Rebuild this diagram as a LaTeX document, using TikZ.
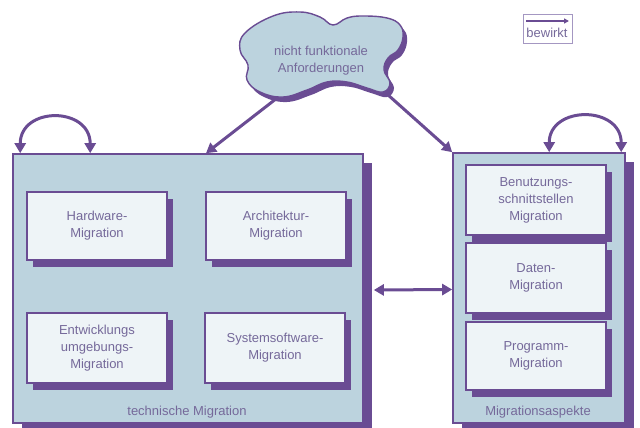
\documentclass[tikz,border=0pt]{standalone}
\usepackage{fontspec}
\setmainfont{Liberation Sans}
\usetikzlibrary{arrows.meta,shadows}

\definecolor{purp}{HTML}{6A4C93}
\definecolor{panel}{HTML}{BCD3DE}
\definecolor{card}{HTML}{EEF4F7}
\definecolor{ink}{HTML}{75699A}
\definecolor{legendline}{HTML}{A497C2}

\begin{document}
\begin{tikzpicture}[x=1pt,y=-1pt,
  panelbox/.style={draw=purp, line width=1.6pt, fill=panel, inner sep=0pt,
    general shadow={fill=purp, shadow xshift=9pt, shadow yshift=-9pt}},
  cardbox/.style={draw=purp, line width=1.4pt, fill=card, text=ink,
    minimum width=140pt, align=center, inner sep=0pt,
    font=\fontsize{13}{17}\selectfont,
    general shadow={fill=purp, shadow xshift=6pt, shadow yshift=-7pt}},
  lbl/.style={text=ink, font=\fontsize{13}{17}\selectfont, align=center, inner sep=0pt},
  effect/.style={draw=purp, line width=3pt, -{Triangle[length=10pt,width=11pt]}},
  mutual/.style={draw=purp, line width=3pt, {Triangle[length=10pt,width=11pt]}-{Triangle[length=10pt,width=11pt]}},
]
\useasboundingbox (0,0) rectangle (640,428);

% legend
\node[draw=legendline, line width=0.8pt, minimum width=49pt, minimum height=29pt, inner sep=0pt] (legend) at (547.5,28.5) {};
\coordinate (lga) at (526,21);
\coordinate (lgb) at (569,21);
\draw[purp, line width=1.4pt, -{Triangle[length=5pt,width=5pt]}] (lga) -- (lgb);
\node[lbl] (legendtext) at (547,33) {bewirkt};

% technical migration panel
\node[panelbox, minimum width=350pt, minimum height=269pt] (tech) at (188,288.5) {};
\node[cardbox, minimum height=68pt] (hw) at (97,226) {Hardware-\\Migration};
\node[cardbox, minimum height=68pt] (arch) at (276,226) {Architektur-\\Migration};
\node[cardbox, minimum height=70pt] (dev) at (97,348) {Entwicklungs\\umgebungs-\\Migration};
\node[cardbox, minimum height=70pt] (sys) at (275,348) {Systemsoftware-\\Migration};
\node[lbl] (techlbl) at (187,412) {technische Migration};

% migration aspects panel
\node[panelbox, minimum width=172pt, minimum height=270pt] (asp) at (539,288) {};
\node[cardbox, minimum height=70pt] (ui) at (536,200) {Benutzungs-\\schnittstellen\\Migration};
\node[cardbox, minimum height=70pt] (data) at (536,278) {Daten-\\Migration};
\node[cardbox, minimum height=68pt] (prog) at (536,356) {Programm-\\Migration};
\node[lbl] (asplbl) at (538,412) {Migrationsaspekte};

% influences of the requirements (drawn below the cloud)
\coordinate (cloudL) at (290,88);
\coordinate (cloudR) at (378,86);
\draw[effect] (cloudL) -- ([xshift=18pt]tech.north |- tech.north);
\draw[effect] (cloudR) -- (asp.north west);

% requirements cloud
\fill[purp] plot[smooth cycle, tension=0.7] coordinates {
  (249,37) (277,20) (304,17) (324,22) (337,30) (351,23) (367,21) (391,23)
  (404,30) (407,42) (402,55) (392,63) (388,75) (394,88) (387,97) (371,93)
  (351,87) (331,87) (311,95) (287,102) (264,97) (251,85) (252,70) (244,55)};
\filldraw[fill=panel, draw=purp, line width=1.4pt] plot[smooth cycle, tension=0.7] coordinates {
  (245,33) (273,16) (300,12) (320,17) (333,25) (347,18) (363,16) (387,18)
  (400,25) (403,37) (398,50) (388,58) (384,70) (390,83) (383,92) (367,88)
  (347,82) (327,82) (307,90) (283,97) (260,92) (247,80) (248,65) (240,50)};
\node[lbl] (cloud) at (321,61) {nicht funktionale\\Anforderungen};

% mutual influence between the panels
\draw[mutual] ([xshift=10pt,yshift=-1.5pt]tech.east) -- ([yshift=-1.5pt]asp.west);

% self-influence loops
\draw[mutual] ([xshift=8pt]tech.north west) .. controls +(0,-47) and +(0,-47) .. ([xshift=78pt]tech.north west);
\draw[mutual] ([xshift=97pt]asp.north west) .. controls +(0,-47) and +(0,-47) .. ([xshift=169pt]asp.north west);
\end{tikzpicture}
\end{document}
